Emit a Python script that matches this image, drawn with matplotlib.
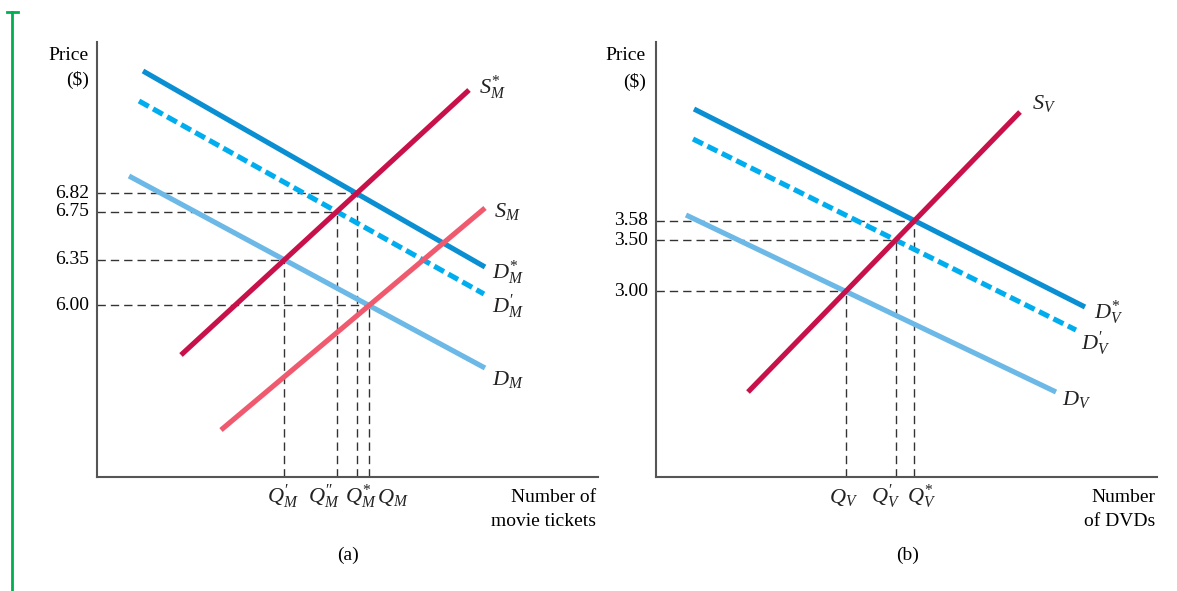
import matplotlib
matplotlib.use('Agg')
import matplotlib.pyplot as plt
import numpy as np

plt.rcParams['font.family'] = ['Liberation Serif', 'DejaVu Serif']
plt.rcParams['mathtext.fontset'] = 'custom'
plt.rcParams['mathtext.rm'] = 'Liberation Serif'
plt.rcParams['mathtext.it'] = 'Liberation Serif:italic'
plt.rcParams['mathtext.bf'] = 'Liberation Serif:bold'
plt.rcParams['lines.scale_dashes'] = False

# curve end points, measured from the origin of each panel (x right, y up)
dm_star = [(46, 406), (388, 210)]
dm_prime = [(42, 376), (387, 183)]
dm = [(32, 301), (388, 109)]
sm_star = [(84, 122), (372, 387)]
sm = [(124, 47), (388, 269)]

dv_star = [(38, 368), (429, 170)]
dv_prime = [(37, 338), (420, 147)]
dv = [(30, 262), (400, 85)]
sv = [(92, 85), (364, 365)]

movie_prices = ['6.82', '6.75', '6.35', '6.00']
movie_pairs = [(sm_star, dm_star), (sm_star, dm_prime), (sm_star, dm), (sm, dm)]
movie_q = [r'$Q_M^{*}$', r'$Q_M^{\prime\prime}$', r'$Q_M^{\prime}$', r'$Q_M$']
movie_q_shift = [4, -13, -2, 24]

dvd_prices = ['3.58', '3.50', '3.00']
dvd_pairs = [(sv, dv_star), (sv, dv_prime), (sv, dv)]
dvd_q = [r'$Q_V^{*}$', r'$Q_V^{\prime}$', r'$Q_V$']
dvd_q_shift = [7, -10, -2]

c_dstar = '#0a8fd3'
c_dprime = '#00aeef'
c_d = '#6cb8e6'
c_sstar = '#c8104a'
c_s = '#f05a6e'


def cross(a, b):
    (x1, y1), (x2, y2) = a
    (x3, y3), (x4, y4) = b
    m1 = (y2 - y1) / (x2 - x1)
    m2 = (y4 - y3) / (x4 - x3)
    x = (y3 - y1 + m1 * x1 - m2 * x3) / (m1 - m2)
    return x, y1 + m1 * (x - x1)


def curve(ax, pts, color, dashed=False):
    xs, ys = zip(*pts)
    if dashed:
        ax.plot(xs, ys, color=color, lw=3.7, dashes=(8, 3.6), dash_capstyle='butt')
    else:
        ax.plot(xs, ys, color=color, lw=3.7, solid_capstyle='butt')


def setup(ax):
    ax.set_xlim(0, 501)
    ax.set_ylim(0, 435)
    for s in ['top', 'right']:
        ax.spines[s].set_visible(False)
    for s in ['left', 'bottom']:
        ax.spines[s].set_color('#555555')
        ax.spines[s].set_linewidth(1.5)
    ax.set_xticks([])
    ax.set_yticks([])
    ax.patch.set_alpha(0)


def guides(ax, pairs, prices, qlabels, shifts):
    for (a, b), p, q, dx in zip(pairs, prices, qlabels, shifts):
        x, y = cross(a, b)
        ax.plot([0, x], [y, y], color='#333333', lw=1.0, dashes=(6, 3.6), zorder=1)
        ax.plot([x, x], [0, y], color='#333333', lw=1.0, dashes=(6, 3.6), zorder=1)
        ax.text(-8, y, p, ha='right', va='center', fontsize=14, clip_on=False)
        ax.text(x + dx, -20, q, ha='center', va='center', fontsize=16, color='#222222', clip_on=False)


fig = plt.figure(figsize=(11.77, 5.91), dpi=100)

# green margin bar
bar = fig.add_axes([0, 0, 1, 1])
bar.set_xlim(0, 1177)
bar.set_ylim(591, 0)
bar.axis('off')
bar.plot([12, 12], [12, 591], color='#00b050', lw=2)
bar.plot([7, 18], [12, 12], color='#00b050', lw=2)

# panel (a)
ax_a = fig.add_axes([97 / 1177, 114 / 591, 501 / 1177, 435 / 591])
setup(ax_a)
guides(ax_a, movie_pairs, movie_prices, movie_q, movie_q_shift)
curve(ax_a, dm_star, c_dstar)
curve(ax_a, dm_prime, c_dprime, dashed=True)
curve(ax_a, dm, c_d)
curve(ax_a, sm_star, c_sstar)
curve(ax_a, sm, c_s)
lab = dict(fontsize=16, va='center', color='#222222', clip_on=False)
ax_a.text(382, 389, r'$S_M^{*}$', **lab)
ax_a.text(397, 265, r'$S_M$', **lab)
ax_a.text(395, 204, r'$D_M^{*}$', **lab)
ax_a.text(395, 170, r'$D_M^{\prime}$', **lab)
ax_a.text(395, 97, r'$D_M$', **lab)
ax_a.text(-8, 422, 'Price', ha='right', va='center', fontsize=14, clip_on=False)
ax_a.text(-8, 397, '($)', ha='right', va='center', fontsize=14, clip_on=False)
ax_a.text(499, -20, 'Number of', ha='right', va='center', fontsize=14, clip_on=False)
ax_a.text(499, -45, 'movie tickets', ha='right', va='center', fontsize=14, clip_on=False)
ax_a.text(251, -78, '(a)', ha='center', va='center', fontsize=14, clip_on=False)

# panel (b)
ax_b = fig.add_axes([656 / 1177, 114 / 591, 501 / 1177, 435 / 591])
setup(ax_b)
guides(ax_b, dvd_pairs, dvd_prices, dvd_q, dvd_q_shift)
curve(ax_b, dv_star, c_dstar)
curve(ax_b, dv_prime, c_dprime, dashed=True)
curve(ax_b, dv, c_d)
curve(ax_b, sv, c_sstar)
ax_b.text(376, 374, r'$S_V$', **lab)
ax_b.text(438, 164, r'$D_V^{*}$', **lab)
ax_b.text(425, 133, r'$D_V^{\prime}$', **lab)
ax_b.text(406, 77, r'$D_V$', **lab)
ax_b.text(-10, 422, 'Price', ha='right', va='center', fontsize=14, clip_on=False)
ax_b.text(-10, 395, '($)', ha='right', va='center', fontsize=14, clip_on=False)
ax_b.text(499, -20, 'Number', ha='right', va='center', fontsize=14, clip_on=False)
ax_b.text(499, -45, 'of DVDs', ha='right', va='center', fontsize=14, clip_on=False)
ax_b.text(252, -78, '(b)', ha='center', va='center', fontsize=14, clip_on=False)

fig.savefig('out.png', dpi=100)
